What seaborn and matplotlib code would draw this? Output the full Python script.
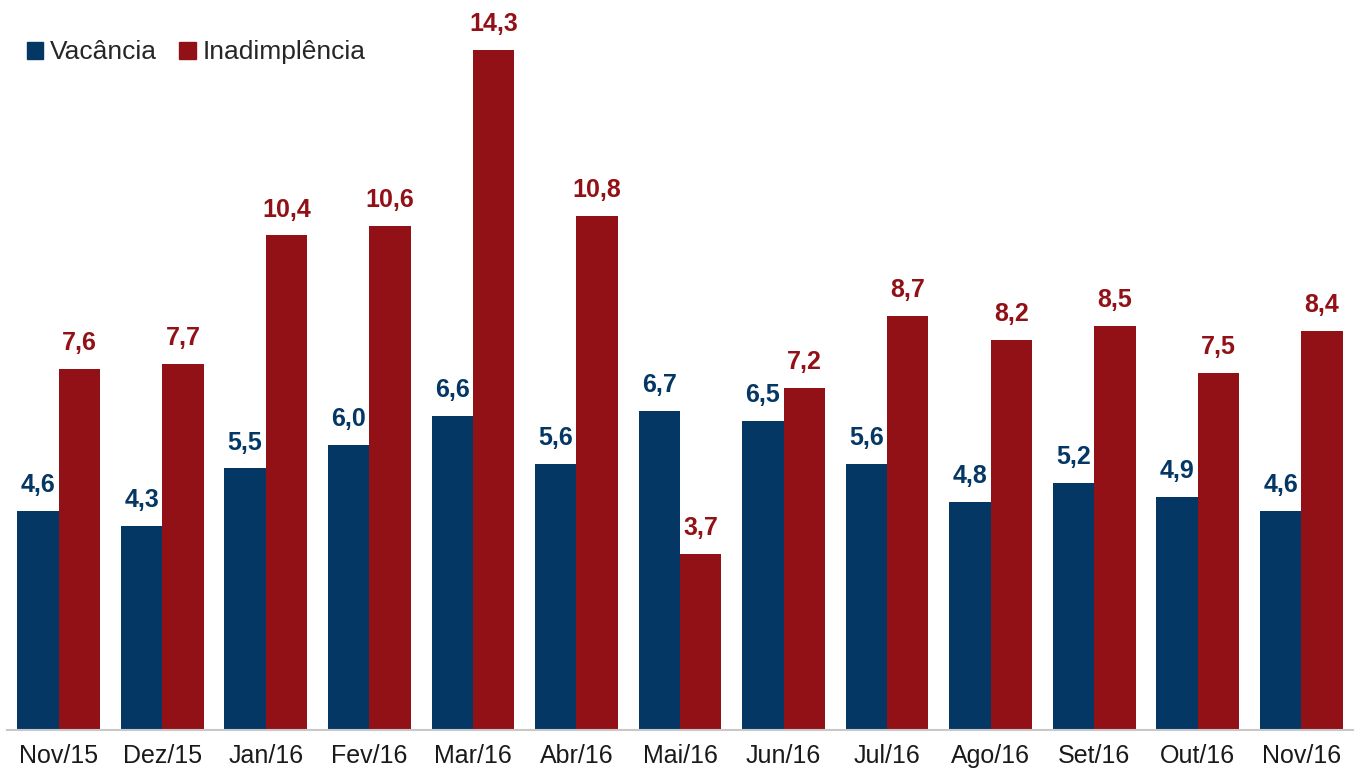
import matplotlib
matplotlib.use("Agg")
import matplotlib.pyplot as plt
import seaborn as sns
import pandas as pd

meses = ["Nov/15", "Dez/15", "Jan/16", "Fev/16", "Mar/16", "Abr/16", "Mai/16",
         "Jun/16", "Jul/16", "Ago/16", "Set/16", "Out/16", "Nov/16"]
vacancia = [4.6, 4.3, 5.5, 6.0, 6.6, 5.6, 6.7, 6.5, 5.6, 4.8, 5.2, 4.9, 4.6]
inadimplencia = [7.6, 7.7, 10.4, 10.6, 14.3, 10.8, 3.7, 7.2, 8.7, 8.2, 8.5, 7.5, 8.4]
series = ["Vacância", "Inadimplência"]
cores = {"Vacância": "#043764", "Inadimplência": "#921116"}

df = pd.DataFrame({
    "mes": meses * 2,
    "valor": vacancia + inadimplencia,
    "serie": [series[0]] * len(meses) + [series[1]] * len(meses),
})

sns.set_theme(style="white")
plt.rcParams["font.family"] = ["Liberation Sans", "DejaVu Sans"]

fig = plt.figure(figsize=(13.64, 7.69), dpi=100)
ax = fig.add_axes([7 / 1364, 39 / 769, 1346 / 1364, 730 / 769])

sns.barplot(data=df, x="mes", y="valor", hue="serie", order=meses,
            hue_order=series, palette=cores, width=0.8, saturation=1,
            linewidth=0, ax=ax, legend=False)

ax.set_xlim(-0.5, 12.5)
ax.set_ylim(0, 15.35)
ax.set_xlabel("")
ax.set_ylabel("")
ax.set_yticks([])
for lado in ["top", "left", "right"]:
    ax.spines[lado].set_visible(False)
ax.spines["bottom"].set_color("#c8c8c8")
ax.spines["bottom"].set_linewidth(1.5)
ax.tick_params(axis="x", length=0, pad=10, labelsize=18, labelcolor="#1a1a1a")

for cont, serie in zip(ax.containers, series):
    ax.bar_label(cont, labels=[f"{b.get_height():.1f}".replace(".", ",") for b in cont],
                 padding=10, fontsize=18, fontweight="bold", color=cores[serie])

handles = [plt.Rectangle((0, 0), 1, 1, color=cores[s]) for s in series]
ax.legend(handles, series, loc="upper left", bbox_to_anchor=(0.007, 0.959),
          frameon=False, ncol=2, fontsize=19, handlelength=0.62, handleheight=0.62,
          handletextpad=0.25, columnspacing=0.85, borderaxespad=0)

fig.savefig("out.png", dpi=100)
